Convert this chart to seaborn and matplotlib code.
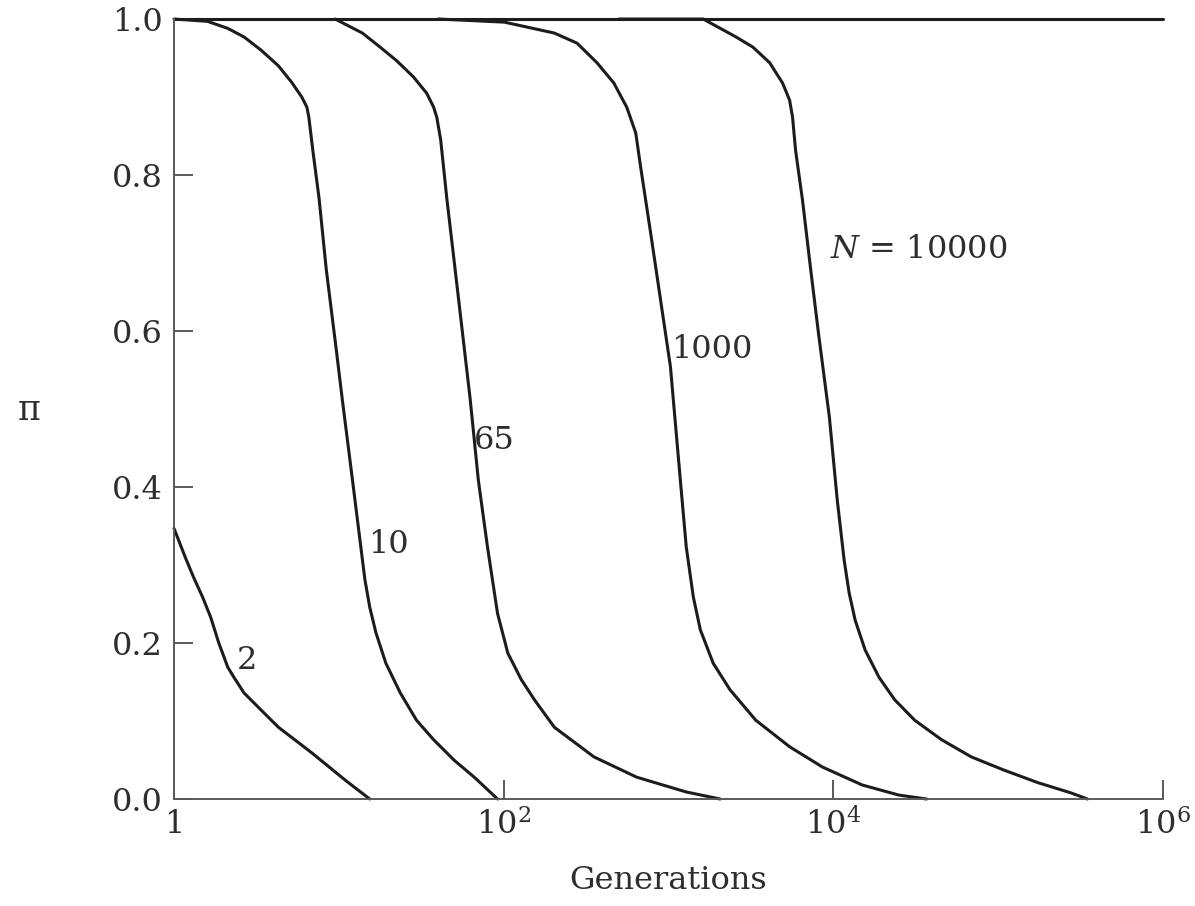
import numpy as np
import pandas as pd
import seaborn as sns
import matplotlib
matplotlib.use("Agg")
import matplotlib.pyplot as plt

# values (generations on a log axis, pi = probability)
gen_inf = [1, 1e6]
pi_inf = [1.0, 1.0]

gen_n2 = [1.0, 1.17, 1.31, 1.49, 1.67, 1.87, 2.12, 2.31, 2.66, 3.38, 4.30, 5.40,
          6.87, 8.74, 10.96, 15.4]
pi_n2 = [0.347, 0.31, 0.285, 0.259, 0.233, 0.20, 0.169, 0.156, 0.136, 0.114, 0.092, 0.076,
         0.059, 0.041, 0.024, 0.0]

gen_n10 = [1.0, 1.60, 2.12, 2.66, 3.38, 4.30, 5.17, 5.96, 6.40, 6.58, 6.97, 7.59,
           8.38, 9.65, 10.5, 12.1, 13.2, 14.4, 15.4, 16.8, 19.3, 23.6, 29.6, 37.6,
           49.9, 66.3, 91.8]
pi_n10 = [1.0, 0.997, 0.988, 0.977, 0.96, 0.94, 0.919, 0.90, 0.887, 0.874, 0.83, 0.77,
          0.68, 0.576, 0.512, 0.409, 0.345, 0.281, 0.246, 0.213, 0.174, 0.136, 0.101, 0.076,
          0.05, 0.028, 0.0]

gen_n65 = [9.5, 13.9, 17.8, 22.3, 28.3, 34.1, 37.6, 39.3, 41.5, 45.2, 50.7, 62.7,
           70.2, 79.8, 91.8, 106, 128, 154, 203, 353, 641, 1282, 2056]
pi_n65 = [1.0, 0.982, 0.964, 0.947, 0.926, 0.905, 0.887, 0.874, 0.845, 0.77, 0.68, 0.512,
          0.409, 0.323, 0.238, 0.187, 0.153, 0.127, 0.092, 0.054, 0.028, 0.009, 0.0]

gen_n1000 = [40, 101, 203, 279, 368, 466, 558, 633, 678, 779, 895, 1028, 1180, 1282,
             1415, 1560, 1868, 2363, 3385, 5430, 8590, 14960, 25000, 36800]
pi_n1000 = [1.0, 0.996, 0.982, 0.969, 0.944, 0.918, 0.887, 0.854, 0.81, 0.726, 0.64, 0.554,
            0.409, 0.323, 0.259, 0.217, 0.174, 0.14, 0.101, 0.067, 0.041, 0.018, 0.005, 0.0]

gen_n10000 = [500, 1625, 2570, 3250, 4110, 4920, 5430, 5660, 5900, 6500, 7260, 8130,
              9460, 10570, 11640, 12480, 13580, 15600, 18940, 23620, 31180, 45370,
              68700, 108600, 174000, 275000, 348000]
pi_n10000 = [1.0, 1.0, 0.977, 0.964, 0.944, 0.918, 0.896, 0.874, 0.832, 0.768, 0.682, 0.597,
             0.49, 0.383, 0.306, 0.264, 0.229, 0.191, 0.156, 0.127, 0.101, 0.076,
             0.054, 0.037, 0.021, 0.008, 0.0]

curve_labels = ["2", "10", "65", "1000", "$N$ = 10000"]
label_x = [2.41, 15.0, 66.3, 1042, 9560]
label_y = [0.178, 0.326, 0.46, 0.576, 0.704]

x_ticks = [1, 1e2, 1e4, 1e6]
x_tick_labels = ["1", "$10^2$", "$10^4$", "$10^6$"]
y_ticks = [0.0, 0.2, 0.4, 0.6, 0.8, 1.0]


def main():
    sns.set_style("ticks")
    plt.rcParams["font.family"] = ["DejaVu Serif"]
    plt.rcParams["mathtext.fontset"] = "dejavuserif"

    ink = "#1c1c1c"
    text_col = "#2e2e2e"
    axis_col = "#5a5a5a"

    fig = plt.figure(figsize=(11.95, 9.06), dpi=100)
    ax = fig.add_axes([0.1456, 0.1181, 0.8276, 0.8609])

    series = [
        (gen_inf, pi_inf),
        (gen_n2, pi_n2),
        (gen_n10, pi_n10),
        (gen_n65, pi_n65),
        (gen_n1000, pi_n1000),
        (gen_n10000, pi_n10000),
    ]
    for gens, pis in series:
        df = pd.DataFrame({"gen": gens, "pi": pis})
        sns.lineplot(data=df, x="gen", y="pi", ax=ax, color=ink, linewidth=2.2,
                     sort=False, estimator=None, clip_on=False,
                     solid_joinstyle="round")

    ax.set_xscale("log")
    ax.set_xlim(1, 1e6)
    ax.set_ylim(0, 1.0)

    ax.set_xticks(x_ticks)
    ax.set_xticklabels(x_tick_labels)
    ax.xaxis.set_minor_locator(matplotlib.ticker.NullLocator())
    ax.set_yticks(y_ticks)
    ax.set_yticklabels([f"{v:.1f}" for v in y_ticks])

    ax.tick_params(axis="both", direction="in", length=14, width=1.4,
                   color=axis_col, labelsize=23, labelcolor=text_col)
    ax.tick_params(axis="x", pad=7)
    ax.tick_params(axis="y", pad=8)

    for side in ["top", "right"]:
        ax.spines[side].set_visible(False)
    for side in ["left", "bottom"]:
        ax.spines[side].set_color(axis_col)
        ax.spines[side].set_linewidth(1.4)

    for txt, lx, ly in zip(curve_labels, label_x, label_y):
        ax.text(lx, ly, txt, fontsize=23, color=text_col, ha="left", va="center")

    ax.set_xlabel("Generations", fontsize=23, color=text_col)
    ax.xaxis.set_label_coords(0.5, -0.104)
    ax.xaxis.label.set_va("center")
    ax.set_ylabel("π", fontsize=25, color=text_col, rotation=0)
    ax.yaxis.set_label_coords(-0.146, 0.499)
    ax.yaxis.label.set_va("center")
    ax.yaxis.label.set_ha("center")

    fig.savefig("out.png", dpi=100, facecolor="white")


if __name__ == "__main__":
    main()
